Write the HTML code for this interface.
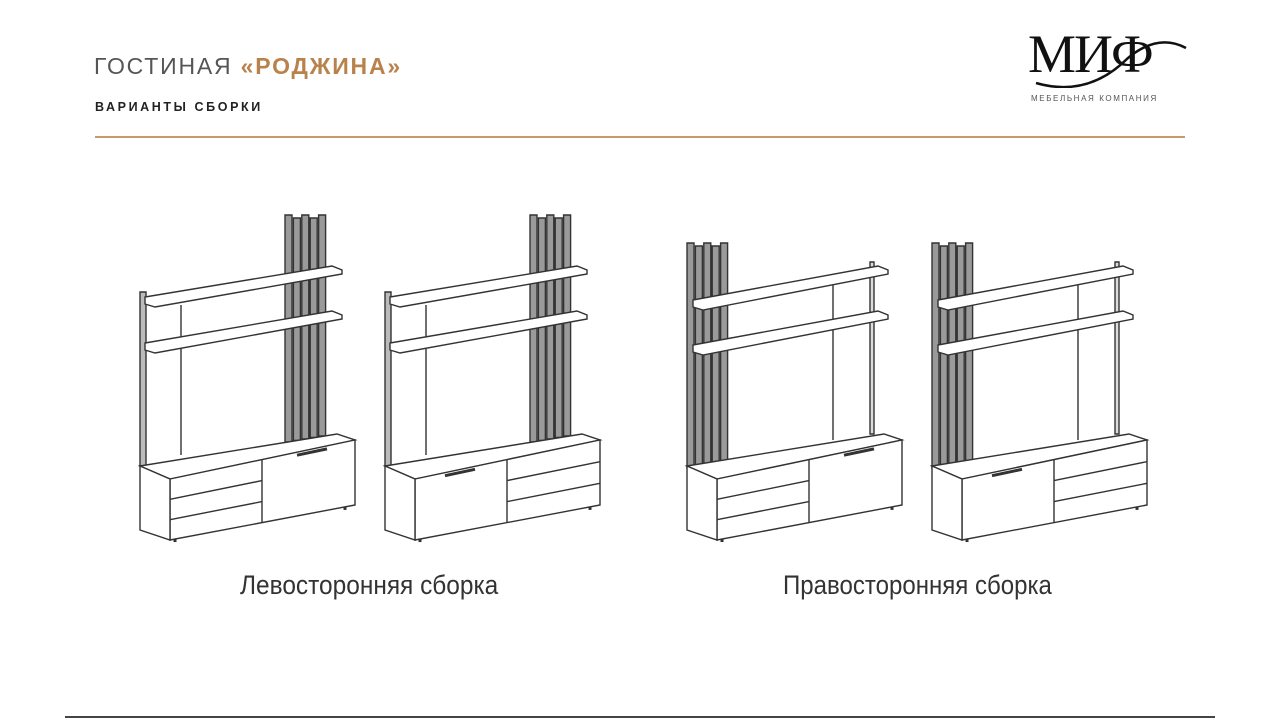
<!DOCTYPE html>
<html><head><meta charset="utf-8"><style>
html,body{margin:0;padding:0;background:#fff;}
body{width:1280px;height:720px;position:relative;overflow:hidden;font-family:"Liberation Sans","DejaVu Sans",sans-serif;}
.t{position:absolute;white-space:nowrap;}
</style></head><body>
<div class="t" style="left:94px;top:53px;font-size:23px;color:#555;letter-spacing:1.8px;">ГОСТИНАЯ <span style="color:#b9824c;font-weight:bold;">«РОДЖИНА»</span></div>
<div class="t" style="left:95px;top:100px;font-size:12.5px;font-weight:bold;color:#222;letter-spacing:2.6px;">ВАРИАНТЫ СБОРКИ</div>
<div style="position:absolute;left:95px;top:136px;width:1090px;height:2px;background:#c89a6a;"></div>
<div style="position:absolute;left:65px;top:716px;width:1150px;height:2px;background:#444;"></div>
<div class="t" style="left:1028px;top:24px;font-family:'Liberation Serif',serif;font-size:54px;color:#111;letter-spacing:-2px;line-height:60px;">МИФ</div>
<svg style="position:absolute;left:1028px;top:28px" width="160" height="60"><path d="M8 55 Q60 70 100 30 Q130 5 158 20" stroke="#111" stroke-width="2.5" fill="none"/></svg>
<div class="t" style="left:1031px;top:94px;font-size:8px;color:#555;letter-spacing:1.6px;">МЕБЕЛЬНАЯ КОМПАНИЯ</div>
<div class="t" style="left:240px;top:570px;font-size:27px;color:#333;transform:scaleX(0.905);transform-origin:left top;">Левосторонняя сборка</div>
<div class="t" style="left:783px;top:570px;font-size:27px;color:#333;transform:scaleX(0.89);transform-origin:left top;">Правосторонняя сборка</div>
<svg id="s" style="position:absolute;left:0;top:0" width="1280" height="720"></svg>
<script>
var o='';
function P(pts,fill){o+='<polygon points="'+pts.map(function(p){return p[0]+','+p[1]}).join(' ')+'" fill="'+(fill||'#fff')+'" stroke="#333" stroke-width="1.4"/>';}
function L(a,b,c,d,w){o+='<line x1="'+a+'" y1="'+b+'" x2="'+c+'" y2="'+d+'" stroke="#333" stroke-width="'+(w||1.4)+'"/>';}
function slats(x,top,bot){for(var i=0;i<5;i++){var xx=x+i*8.4;P([[xx,top+(i%2?3:0)],[xx+7,top+(i%2?3:0)],[xx+7,bot-i*1.5],[xx,bot-i*1.5]],'#9a9a9a');}}
function shelf(x1,y1,x2,y2){P([[x1,y1],[x2-10,y2],[x2,y2+4],[x2,y2+8],[x1+10,y1+10],[x1,y1+7]]);}
function unit(Lx,right,doorRight){
 var yf=function(dx){return 479-(dx-30)*0.211;}, yb=function(dx){return 540-(dx-30)*0.189;};
 if(!right){
  P([[Lx,292],[Lx+6,292],[Lx+6,466],[Lx,466]],'#bbb');
  L(Lx+41,305,Lx+41,455);
  slats(Lx+145,215,442);
  shelf(Lx+5,297,Lx+202,266);
  shelf(Lx+5,343,Lx+202,311);
 } else {
  L(Lx+146,282,Lx+146,440);
  P([[Lx+183,262],[Lx+187,262],[Lx+187,434],[Lx+183,434]],'#ddd');
  slats(Lx,243,468);
  shelf(Lx+6,300,Lx+201,266);
  shelf(Lx+6,345,Lx+201,311);
 }
 P([[Lx,466],[Lx+197,434],[Lx+215,440],[Lx+30,479]]);
 P([[Lx+30,479],[Lx+215,440],[Lx+215,505],[Lx+30,540]]);
 P([[Lx,466],[Lx+30,479],[Lx+30,540],[Lx,530]]);
 var d=122;
 L(Lx+d,yf(d),Lx+d,yb(d));
 var a=doorRight?30:d, b=doorRight?d:215;
 for(var k=1;k<=2;k++){var f=k/3;L(Lx+a,yf(a)+(yb(a)-yf(a))*f,Lx+b,yf(b)+(yb(b)-yf(b))*f);}
 var h=doorRight?d+35:60;
 L(Lx+h,yf(h)+3,Lx+h+30,yf(h+30)+3,3);
 L(Lx+35,yb(35),Lx+35,yb(35)+3,3);L(Lx+205,yb(205),Lx+205,yb(205)+3,3);
}
unit(140,false,true);
unit(385,false,false);
unit(687,true,true);
unit(932,true,false);
document.getElementById('s').innerHTML=o;
</script>
</body></html>
